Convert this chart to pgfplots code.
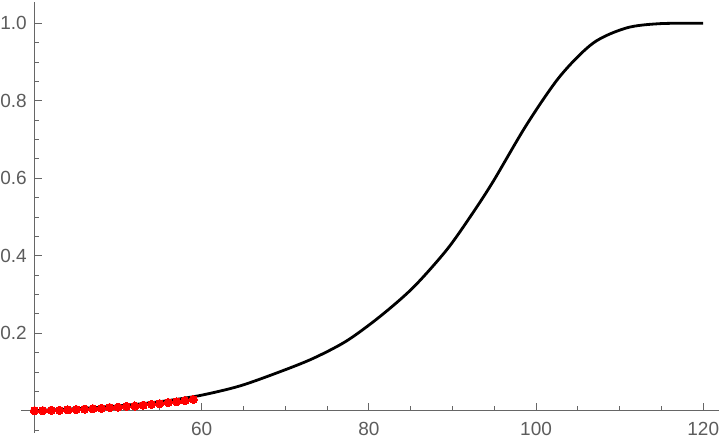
\documentclass[border=0pt]{standalone}
\usepackage{pgfplots}
\pgfplotsset{compat=1.18}
\usepackage{fontspec}
\setmainfont{Liberation Sans}
\definecolor{axgray}{gray}{0.4}
\definecolor{lblgray}{gray}{0.36}
\begin{document}
\begin{tikzpicture}
\begin{axis}[
  at={(0,0)}, anchor=south west,
  scale only axis,
  width=698.1pt, height=430.5pt,
  axis lines=middle,
  axis line style={-, draw=axgray, line width=0.9pt},
  every inner x axis line/.append style={-},
  every inner y axis line/.append style={-},
  x filter/.expression={x-40},
  xmin=-1.61, xmax=81.9,
  ymin=-0.0569, ymax=1.0544,
  xtick={0,20,40,60,80},
  xticklabels={,60,80,100,120},
  minor xtick={5,10,15,25,30,35,45,50,55,65,70,75},
  ytick={0.2,0.4,0.6,0.8,1.0},
  minor ytick={-0.05,0.05,0.1,0.15,0.25,0.3,0.35,0.45,0.5,0.55,0.65,0.7,0.75,0.85,0.9,0.95},
  /pgf/number format/fixed,
  /pgf/number format/fixed zerofill,
  /pgf/number format/precision=1,
  /pgf/number format/assume math mode=true,
  tick align=inside,
  major tick length=7.5pt,
  minor tick length=4.8pt,
  every tick/.style={draw=axgray, line width=0.8pt},
  every minor tick/.style={draw=axgray, line width=0.8pt},
  ticklabel style={font=\fontsize{19}{22}\selectfont, text=lblgray},
  xticklabel style={inner sep=0pt, anchor=north, yshift=-11pt},
  yticklabel style={inner sep=0pt, anchor=east, xshift=-7.5pt},
  hide obscured x ticks=false,
  hide obscured y ticks=false,
  clip=false,
]
\addplot[black, line width=2.8pt, smooth, tension=0.5, no marks] coordinates {
(40,0.000) (44,0.004) (48,0.009) (52,0.016) (56,0.026) (60,0.040)
(64.6,0.064) (69.37,0.1005) (73.35,0.135) (77.34,0.180) (81.33,0.243)
(85.31,0.318) (89.31,0.415) (92.3,0.506) (94.88,0.592) (98.87,0.738)
(102.86,0.863) (106.84,0.949) (110.83,0.988) (114.8,0.999) (120,1.000)
};
\addplot[only marks, mark=*, mark size=4.1pt, mark options={fill=red, draw=red, line width=0pt}] coordinates {
(40,0.000) (41,0.000) (42,0.001) (43,0.001) (44,0.002) (45,0.003)
(46,0.004) (47,0.005) (48,0.006) (49,0.008) (50,0.009) (51,0.011)
(52,0.012) (53,0.014) (54,0.016) (55,0.018) (56,0.021) (57,0.023)
(58,0.026) (59,0.029)
};
\end{axis}
\pgfresetboundingbox
\path[use as bounding box] (-21pt,-7.3pt) rectangle (699pt,432.7pt);
\end{tikzpicture}
\end{document}
